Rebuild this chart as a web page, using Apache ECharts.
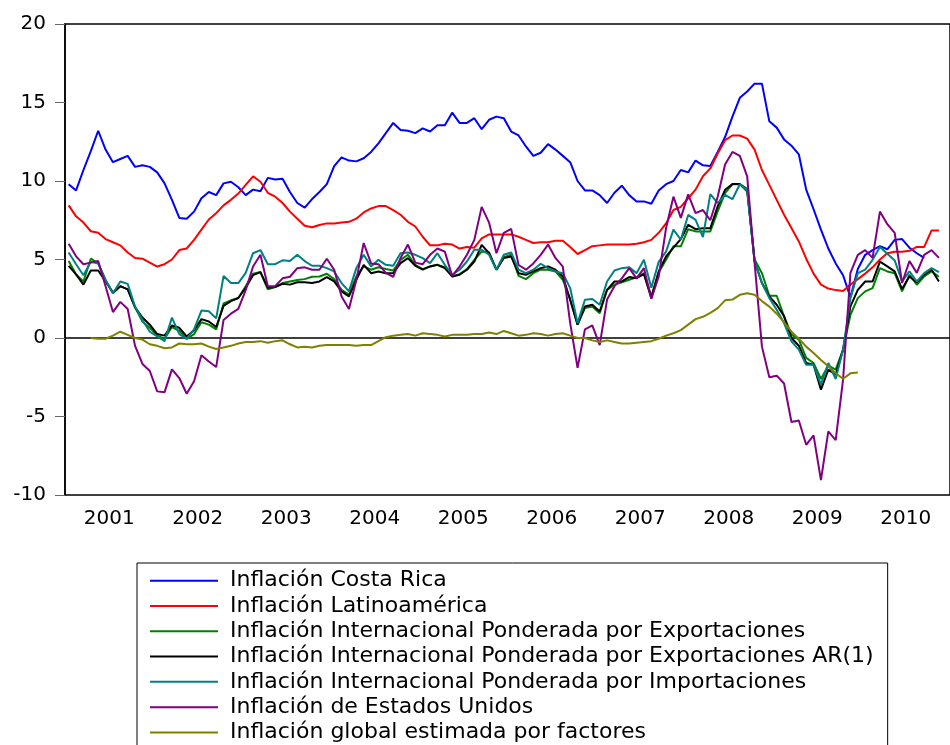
<!DOCTYPE html>
<html>
<head>
<meta charset="utf-8">
<script src="https://cdn.jsdelivr.net/npm/echarts@6/dist/echarts.min.js"></script>
<style>
  html, body { margin: 0; padding: 0; background: #fff; }
  #chart { width: 950px; height: 745px; }
</style>
</head>
<body>
<div id="chart"></div>
<script>
// años del eje x y meses (datos mensuales)
var years = ['2001', '2002', '2003', '2004', '2005', '2006', '2007', '2008', '2009', '2010'];
var months = [];
for (var y = 0; y < years.length; y++) {
    for (var m = 1; m <= 12; m++) {
        months.push(years[y] + '-' + (m < 10 ? '0' + m : m));
    }
}

var costaRica = [9.8, 9.4, 10.7, 11.9, 13.2, 12.0, 11.2, 11.4, 11.6, 10.9, 11.0, 10.9,
    10.55, 9.85, 8.8, 7.65, 7.6, 8.05, 8.9, 9.3, 9.1, 9.85, 9.95, 9.6,
    9.1, 9.45, 9.35, 10.2, 10.1, 10.15, 9.3, 8.6, 8.3, 8.85, 9.3, 9.8,
    10.95, 11.5, 11.3, 11.25, 11.45, 11.85, 12.4, 13.05, 13.7, 13.25, 13.2, 13.05,
    13.35, 13.15, 13.55, 13.55, 14.35, 13.7, 13.7, 14.0, 13.3, 13.9, 14.1, 14.0,
    13.15, 12.9, 12.2, 11.6, 11.8, 12.35, 12.0, 11.6, 11.2, 10.0, 9.4, 9.4,
    9.1, 8.6, 9.25, 9.7, 9.1, 8.7, 8.7, 8.55, 9.4, 9.8, 10.0, 10.7,
    10.55, 11.3, 11.0, 10.95, 11.85, 12.8, 14.1, 15.3, 15.7, 16.2, 16.2, 13.8,
    13.4, 12.65, 12.25, 11.7, 9.45, 8.2, 6.9, 5.7, 4.75, 4.0, 2.6, 4.4,
    5.3, 5.6, 5.85, 5.65, 6.25, 6.3, 5.75, 5.4, 5.1];

var latam = [8.45, 7.75, 7.35, 6.8, 6.7, 6.3, 6.1, 5.9, 5.45, 5.1, 5.05, 4.8,
    4.55, 4.7, 5.0, 5.6, 5.7, 6.25, 6.9, 7.55, 7.95, 8.45, 8.8, 9.2,
    9.75, 10.3, 9.95, 9.25, 9.0, 8.6, 8.05, 7.6, 7.15, 7.05, 7.2, 7.3,
    7.3, 7.35, 7.4, 7.6, 8.0, 8.25, 8.4, 8.4, 8.15, 7.85, 7.4, 7.1,
    6.45, 5.9, 5.9, 6.0, 5.95, 5.7, 5.8, 5.75, 6.35, 6.6, 6.6, 6.6,
    6.6, 6.45, 6.25, 6.05, 6.1, 6.1, 6.2, 6.2, 5.8, 5.35, 5.6, 5.85,
    5.9, 5.95, 5.95, 5.95, 5.95, 6.0, 6.1, 6.25, 6.7, 7.3, 8.15, 8.35,
    8.9, 9.45, 10.3, 10.8, 11.75, 12.6, 12.9, 12.9, 12.7, 12.0, 10.7, 9.75,
    8.8, 7.85, 7.0, 6.15, 5.05, 4.1, 3.4, 3.15, 3.05, 3.0, 3.4, 3.75,
    4.1, 4.5, 5.0, 5.4, 5.5, 5.5, 5.55, 5.8, 5.8, 6.85, 6.85];

var exportW = [4.9, 4.05, 3.6, 5.05, 4.75, 3.7, 2.85, 3.3, 3.1, 1.95, 1.05, 0.65,
    0.15, -0.05, 0.7, 0.45, -0.05, 0.25, 1.0, 0.85, 0.55, 2.2, 2.4, 2.55,
    3.3, 4.1, 4.2, 3.1, 3.25, 3.5, 3.6, 3.7, 3.75, 3.9, 3.92, 4.09,
    3.75, 3.07, 2.76, 3.92, 4.56, 4.35, 4.51, 4.39, 4.3, 4.98, 5.3, 4.66,
    4.39, 4.56, 4.66, 4.51, 3.92, 4.07, 4.39, 4.98, 5.51, 5.45, 4.35, 5.15,
    5.3, 3.96, 3.75, 4.13, 4.35, 4.35, 4.24, 3.71, 2.44, 0.85, 1.91, 2.01,
    1.58, 3.07, 3.39, 3.54, 3.71, 3.86, 4.13, 2.65, 4.18, 4.98, 5.84, 5.84,
    6.93, 6.79, 6.79, 6.79, 8.06, 9.23, 9.79, 9.79, 9.33, 5.0, 4.13, 2.69,
    2.69, 1.38, 0.21, -0.1, -1.27, -1.59, -2.61, -1.76, -2.01, -0.74, 1.48, 2.54,
    2.97, 3.18, 4.45, 4.24, 4.13, 2.97, 4.03, 3.39, 3.92, 4.24, 3.9];

var exportAR1 = [4.6, 4.05, 3.4, 4.3, 4.3, 3.6, 2.9, 3.3, 3.1, 1.95, 1.3, 0.85,
    0.25, 0.15, 0.8, 0.65, 0.1, 0.5, 1.2, 1.05, 0.7, 2.05, 2.35, 2.55,
    3.2, 4.0, 4.2, 3.2, 3.25, 3.45, 3.4, 3.55, 3.55, 3.5, 3.6, 3.88,
    3.6, 2.97, 2.65, 3.71, 4.66, 4.13, 4.24, 4.13, 4.13, 4.77, 5.09, 4.6,
    4.35, 4.56, 4.66, 4.45, 3.92, 4.03, 4.35, 4.87, 5.93, 5.4, 4.35, 5.09,
    5.19, 4.13, 4.03, 4.24, 4.45, 4.56, 4.35, 3.92, 2.44, 0.85, 2.01, 2.12,
    1.69, 3.07, 3.6, 3.6, 3.88, 3.81, 4.07, 2.54, 4.24, 5.19, 5.75, 6.3,
    7.21, 6.93, 6.99, 6.99, 8.38, 9.44, 9.81, 9.81, 9.48, 4.9, 3.5, 2.65,
    2.12, 1.38, 0.0, -0.49, -1.59, -1.7, -3.29, -2.01, -2.33, -0.74, 2.01, 3.07,
    3.6, 3.6, 4.87, 4.56, 4.24, 3.12, 3.92, 3.54, 4.03, 4.35, 3.6];

var importW = [5.45, 4.7, 4.0, 4.85, 4.75, 3.7, 2.85, 3.6, 3.45, 2.0, 1.15, 0.4,
    0.1, -0.2, 1.3, 0.25, -0.05, 0.55, 1.75, 1.7, 1.25, 3.95, 3.5, 3.5,
    4.15, 5.4, 5.6, 4.7, 4.7, 4.95, 4.9, 5.3, 4.9, 4.6, 4.6, 4.45,
    4.24, 3.5, 2.97, 4.45, 5.3, 4.56, 4.98, 4.66, 4.6, 5.4, 5.45, 5.3,
    5.09, 4.77, 5.4, 4.66, 4.03, 4.35, 4.87, 5.62, 5.62, 5.3, 4.35, 5.3,
    5.45, 4.35, 4.13, 4.35, 4.73, 4.45, 4.24, 4.13, 3.18, 0.95, 2.44, 2.48,
    2.12, 3.6, 4.3, 4.45, 4.5, 4.13, 4.98, 3.2, 4.85, 5.5, 6.9, 6.26,
    7.84, 7.52, 6.43, 9.16, 8.59, 9.12, 8.84, 9.79, 9.44, 4.9, 3.5, 2.54,
    1.8, 0.95, -0.21, -0.74, -1.7, -1.7, -2.97, -1.59, -2.61, -0.74, 2.54, 4.13,
    4.35, 4.98, 5.79, 5.36, 4.94, 3.6, 4.24, 3.6, 4.13, 4.45, 4.2];

var usa = [6.0, 5.2, 4.7, 4.8, 4.9, 3.3, 1.65, 2.3, 1.85, -0.5, -1.65, -2.1,
    -3.4, -3.45, -2.0, -2.55, -3.55, -2.75, -1.1, -1.5, -1.85, 1.15, 1.55, 1.85,
    3.05, 4.55, 5.3, 3.3, 3.3, 3.8, 3.9, 4.45, 4.5, 4.35, 4.35, 5.05,
    4.35, 2.65, 1.85, 3.7, 6.05, 4.75, 4.7, 4.15, 3.9, 5.1, 5.95, 4.8,
    4.7, 5.3, 5.7, 5.5, 3.95, 4.55, 5.3, 6.25, 8.35, 7.35, 5.4, 6.7,
    6.95, 4.65, 4.35, 4.75, 5.3, 5.95, 5.1, 4.55, 0.95, -1.9, 0.55, 0.8,
    -0.45, 2.45, 3.3, 3.8, 4.45, 3.8, 4.45, 2.5, 3.9, 7.0, 9.0, 7.65,
    9.15, 7.95, 8.15, 7.5, 9.0, 11.05, 11.85, 11.6, 10.3, 4.8, -0.55, -2.5,
    -2.4, -2.9, -5.35, -5.25, -6.8, -6.2, -9.05, -5.95, -6.5, -2.65, 4.15, 5.3,
    5.6, 5.1, 8.05, 7.25, 6.7, 3.5, 4.9, 4.15, 5.3, 5.6, 5.1];

var globalF = [null, null, null, 0.0, -0.05, -0.05, 0.15, 0.4, 0.2, 0.0, -0.1, -0.4,
    -0.5, -0.65, -0.6, -0.35, -0.4, -0.4, -0.35, -0.55, -0.7, -0.6, -0.5, -0.35,
    -0.25, -0.25, -0.2, -0.3, -0.2, -0.15, -0.4, -0.6, -0.55, -0.6, -0.5, -0.45,
    -0.45, -0.45, -0.45, -0.5, -0.45, -0.45, -0.2, 0.05, 0.15, 0.2, 0.25, 0.15,
    0.3, 0.25, 0.2, 0.1, 0.2, 0.2, 0.2, 0.25, 0.25, 0.35, 0.25, 0.45,
    0.3, 0.15, 0.2, 0.3, 0.25, 0.15, 0.25, 0.3, 0.15, 0.0, 0.0, -0.15,
    -0.25, -0.15, -0.25, -0.35, -0.35, -0.3, -0.25, -0.2, -0.05, 0.15, 0.3, 0.5,
    0.85, 1.2, 1.35, 1.6, 1.9, 2.4, 2.45, 2.75, 2.85, 2.75, 2.35, 2.0,
    1.55, 1.0, 0.4, -0.05, -0.55, -0.95, -1.4, -1.8, -2.25, -2.6, -2.25, -2.2];

var names = [
    'Inflación Costa Rica',
    'Inflación Latinoamérica',
    'Inflación Internacional Ponderada por Exportaciones',
    'Inflación Internacional Ponderada por Exportaciones AR(1)',
    'Inflación Internacional Ponderada por Importaciones',
    'Inflación de Estados Unidos',
    'Inflación global estimada por factores'
];
var colors = ['#0000ff', '#ff0000', '#008000', '#000000', '#008080', '#800080', '#808000'];
var values = [costaRica, latam, exportW, exportAR1, importW, usa, globalF];

var chart = echarts.init(document.getElementById('chart'));

var series = [];
for (var i = 0; i < names.length; i++) {
    series.push({
        name: names[i],
        type: 'line',
        xAxisIndex: 0,
        symbol: 'none',
        showSymbol: false,
        connectNulls: false,
        lineStyle: { color: colors[i], width: 2 },
        itemStyle: { color: colors[i] },
        data: values[i]
    });
}

var font = 'DejaVu Sans';

chart.setOption({
    animation: false,
    backgroundColor: '#fff',
    grid: {
        left: 65, top: 24, width: 900, height: 471,
        show: true, borderColor: '#000', borderWidth: 1.5
    },
    legend: {
        orient: 'vertical',
        left: 137, top: 563,
        height: 200,
        padding: [5, 14, 20, 13],
        itemGap: 0,
        itemWidth: 68,
        itemHeight: 2,
        icon: 'rect',
        borderColor: '#000',
        borderWidth: 1,
        data: names,
        textStyle: { fontFamily: font, fontSize: 22, color: '#000', lineHeight: 25.3, padding: [0, 0, 0, 7] }
    },
    xAxis: [{
        type: 'category',
        data: months,
        boundaryGap: true,
        position: 'bottom',
        axisLine: { lineStyle: { color: '#000', width: 1.5 } },
        axisTick: { interval: 2, length: 5, lineStyle: { color: '#333' } },
        axisLabel: { show: false },
        splitLine: { show: false }
    }, {
        type: 'category',
        data: years,
        boundaryGap: true,
        position: 'bottom',
        axisLine: { show: false },
        axisTick: { length: 10, lineStyle: { color: '#333' } },
        axisLabel: { interval: 0, fontFamily: font, fontSize: 20, color: '#000', margin: 14 },
        splitLine: { show: false }
    }],
    yAxis: {
        type: 'value',
        min: -10, max: 20, interval: 5,
        axisLine: { show: true, lineStyle: { color: '#000', width: 1.5 } },
        axisTick: { show: true, length: 10, lineStyle: { color: '#666' } },
        axisLabel: { fontFamily: font, fontSize: 20, color: '#000', margin: 19 },
        splitLine: { show: false }
    },
    series: series
});
</script>
</body>
</html>
